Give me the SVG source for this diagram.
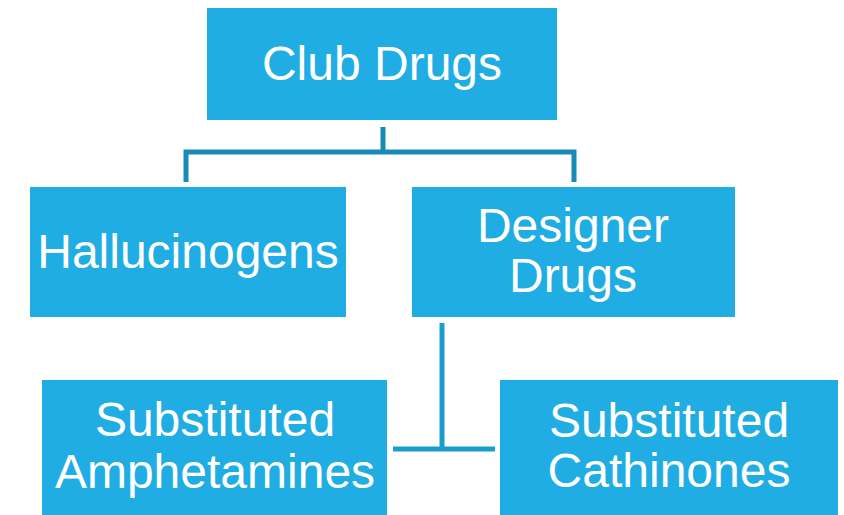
<svg xmlns="http://www.w3.org/2000/svg" width="844" height="515" viewBox="0 0 844 515">
<style>
.box{fill:#1FADE4;}
.t{fill:#ffffff;font-family:"Liberation Sans",Arial,sans-serif;font-size:48px;text-anchor:middle;}
.c1{fill:none;stroke:#178AB8;stroke-width:5;}
.c2{fill:none;stroke:#1A9ED2;stroke-width:5;}
</style>
<rect width="844" height="515" fill="#ffffff"/>
<g id="connectors">
<path class="c1" d="M383 127 V152 M186 182 V152 H574 V182"/>
<path class="c2" d="M442 323 V449 M393 449 H495"/>
</g>
<g id="club-drugs">
<rect class="box" x="207" y="8" width="350" height="112"/>
<text class="t" x="382" y="80">Club Drugs</text>
</g>
<g id="hallucinogens">
<rect class="box" x="30" y="187" width="316" height="130"/>
<text class="t" x="188" y="268">Hallucinogens</text>
</g>
<g id="designer-drugs">
<rect class="box" x="412" y="187" width="323" height="130"/>
<text class="t" x="573" y="242">Designer</text>
<text class="t" x="573" y="292">Drugs</text>
</g>
<g id="substituted-amphetamines">
<rect class="box" x="42" y="380" width="345" height="135"/>
<text class="t" x="215" y="436">Substituted</text>
<text class="t" x="215" y="488">Amphetamines</text>
</g>
<g id="substituted-cathinones">
<rect class="box" x="500" y="380" width="338" height="135"/>
<text class="t" x="669" y="437">Substituted</text>
<text class="t" x="669" y="487">Cathinones</text>
</g>
</svg>
